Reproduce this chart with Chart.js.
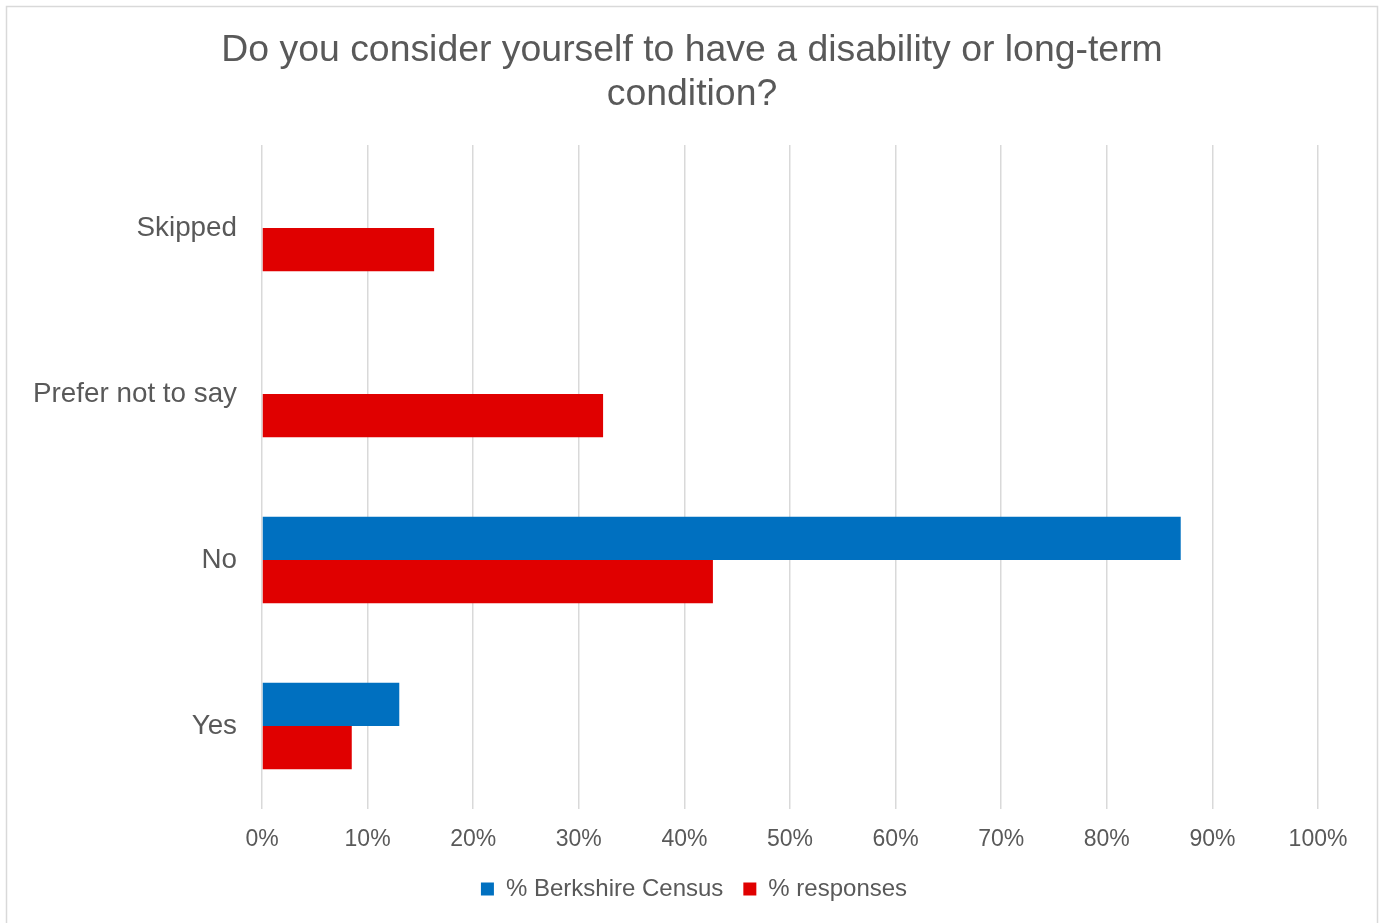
<!DOCTYPE html>
<html>
<head>
<meta charset="utf-8">
<script src="https://cdn.jsdelivr.net/npm/chart.js@4.4.1/dist/chart.umd.min.js"></script>
<style>
  html, body { margin: 0; padding: 0; background: #ffffff; }
  #wrap { width: 1380px; height: 923px; }
</style>
</head>
<body>
<div id="wrap"><canvas id="chart" width="1380" height="923"></canvas></div>
<script>
// Survey answers, top to bottom
const categories = ['Skipped', 'Prefer not to say', 'No', 'Yes'];

// Share of people in each answer group (%)
const censusValues = [null, null, 87.0, 13.0];
const responseValues = [16.3, 32.3, 42.7, 8.5];

const seriesNames = ['% Berkshire Census', '% responses'];
const xTickValues = [0, 10, 20, 30, 40, 50, 60, 70, 80, 90, 100];

const titleLines = ['Do you consider yourself to have a disability or long-term', 'condition?'];

const FONT = '"Liberation Sans", Arial, sans-serif';
const TEXT = '#595959';

// white page with a light frame around the chart
const framePlugin = {
  id: 'frame',
  beforeDraw(chart) {
    const ctx = chart.ctx;
    ctx.save();
    ctx.fillStyle = '#ffffff';
    ctx.fillRect(0, 0, chart.width, chart.height);
    ctx.strokeStyle = '#d9d9d9';
    ctx.lineWidth = 1.5;
    ctx.strokeRect(6.5, 6.5, 1371, 940);
    ctx.restore();
  }
};

// centre the title and legend on the whole frame rather than the padded area
const centreBlocksPlugin = {
  id: 'centreBlocks',
  afterLayout(chart) {
    if (chart.titleBlock) { chart.titleBlock.left = 0; chart.titleBlock.right = 1384; }
    if (chart.legend) { chart.legend.left = 2; chart.legend.right = 1386; }
  }
};

new Chart(document.getElementById('chart'), {
  type: 'bar',
  data: {
    labels: categories,
    datasets: [
      { label: seriesNames[0], data: censusValues, backgroundColor: '#0070C0' },
      { label: seriesNames[1], data: responseValues, backgroundColor: '#E00000' }
    ]
  },
  options: {
    indexAxis: 'y',
    responsive: false,
    animation: false,
    devicePixelRatio: 1,
    categoryPercentage: 0.52,
    barPercentage: 1.0,
    layout: { padding: { top: 8, right: 62, bottom: 12, left: 0 } },
    scales: {
      x: {
        min: 0,
        max: 100,
        afterBuildTicks(scale) {
          scale.ticks = xTickValues.map(v => ({ value: v }));
        },
        afterFit(scale) { scale.height = 48; },
        ticks: {
          callback: v => v + '%',
          color: TEXT,
          font: { family: FONT, size: 23 },
          padding: 17,
          maxRotation: 0
        },
        grid: { color: '#d9d9d9', lineWidth: 1.5, drawTicks: false },
        border: { display: false }
      },
      y: {
        afterFit(scale) { scale.width = 262; },
        ticks: {
          color: TEXT,
          font: { family: FONT, size: 27.8 },
          padding: 25
        },
        grid: { display: false, drawTicks: false },
        border: { display: false }
      }
    },
    plugins: {
      title: {
        display: true,
        text: titleLines,
        color: TEXT,
        font: { family: FONT, size: 37.4, weight: 'normal', lineHeight: '44px' },
        padding: { top: 21, bottom: 28 }
      },
      legend: {
        position: 'bottom',
        labels: {
          boxWidth: 13,
          boxHeight: 13,
          color: TEXT,
          font: { family: FONT, size: 24 },
          padding: 20
        }
      },
      tooltip: { enabled: false }
    }
  },
  plugins: [framePlugin, centreBlocksPlugin]
});
</script>
</body>
</html>
